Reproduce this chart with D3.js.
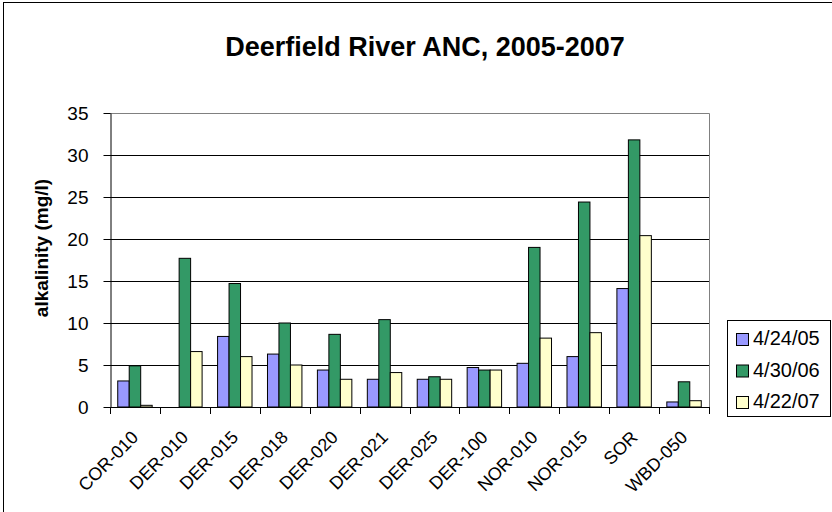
<!DOCTYPE html>
<html>
<head>
<meta charset="utf-8">
<script src="https://cdn.jsdelivr.net/npm/d3@7"></script>
<style>
  body { margin: 0; background: #fff; }
  svg { display: block; font-family: Arial, "Liberation Sans", sans-serif; }
</style>
</head>
<body>
<div id="chart"></div>
<script>
// Deerfield River ANC, 2005-2007 - grouped bar chart

const sites = ["COR-010", "DER-010", "DER-015", "DER-018", "DER-020", "DER-021",
               "DER-025", "DER-100", "NOR-010", "NOR-015", "SOR", "WBD-050"];
const dates = ["4/24/05", "4/30/06", "4/22/07"];
const apr2005 = [3.1, null, 8.4, 6.3, 4.4, 3.3, 3.3, 4.7, 5.2, 6.0, 14.1, 0.6];
const apr2006 = [4.9, 17.7, 14.7, 10.0, 8.65, 10.4, 3.6, 4.4, 19.0, 24.4, 31.8, 3.0];
const apr2007 = [0.2, 6.6, 6.0, 5.0, 3.3, 4.1, 3.3, 4.4, 8.2, 8.85, 20.4, 0.75];
const yTicks = [0, 5, 10, 15, 20, 25, 30, 35];
const colors = ["#9999FF", "#339966", "#FFFFCC"];

const width = 832, height = 512;
const plot = { left: 110, right: 709, top: 113, bottom: 407 };

const series = [apr2005, apr2006, apr2007];

const svg = d3.select("#chart").append("svg")
  .attr("width", width)
  .attr("height", height);

// outer chart border
svg.append("rect")
  .attr("x", 3.5).attr("y", 2.5)
  .attr("width", 860).attr("height", 540)
  .attr("fill", "none").attr("stroke", "#000");

const x = d3.scaleBand()
  .domain(sites)
  .range([plot.left, plot.right])
  .paddingInner(0.31)
  .paddingOuter(0.155);

const x1 = d3.scaleBand()
  .domain(d3.range(dates.length))
  .range([0, x.bandwidth()]);

const y = d3.scaleLinear()
  .domain([0, 35])
  .range([plot.bottom, plot.top]);

// gridlines
svg.append("g")
  .selectAll("line")
  .data(yTicks.filter(t => t > 0 && t < 35))
  .join("line")
    .attr("x1", plot.left).attr("x2", plot.right)
    .attr("y1", d => Math.round(y(d)) + 0.5)
    .attr("y2", d => Math.round(y(d)) + 0.5)
    .attr("stroke", "#000");

// plot area frame (top / right in grey)
svg.append("path")
  .attr("d", `M${plot.left},${plot.top + 0.5}H${plot.right + 0.5}V${plot.bottom}`)
  .attr("fill", "none")
  .attr("stroke", "#808080");

// bars
const groups = svg.append("g")
  .selectAll("g")
  .data(sites)
  .join("g")
    .attr("transform", d => `translate(${x(d)},0)`);

groups.selectAll("rect")
  .data((d, i) => series.map((s, k) => ({ k, v: s[i] })).filter(e => e.v != null))
  .join("rect")
    .attr("x", d => x1(d.k))
    .attr("y", d => y(d.v))
    .attr("width", x1.bandwidth())
    .attr("height", d => y(0) - y(d.v))
    .attr("fill", d => colors[d.k])
    .attr("stroke", "#000")
    .attr("stroke-width", 1);

// y axis
const yAxis = svg.append("g")
  .attr("transform", `translate(${plot.left + 0.5},0)`)
  .call(d3.axisLeft(y).tickValues(yTicks).tickSizeOuter(0).tickSizeInner(7).tickPadding(15));
yAxis.select(".domain").attr("stroke", "#000");
yAxis.selectAll("text")
  .style("font-size", "19px")
  .attr("fill", "#000");

// x axis: ticks on category boundaries
const xAxisG = svg.append("g");
xAxisG.append("line")
  .attr("x1", plot.left).attr("x2", plot.right + 1)
  .attr("y1", plot.bottom + 0.5).attr("y2", plot.bottom + 0.5)
  .attr("stroke", "#000");
const step = x.step();
xAxisG.selectAll("line.tick")
  .data(d3.range(sites.length + 1))
  .join("line")
    .attr("class", "tick")
    .attr("x1", i => Math.round(plot.left + i * step) + 0.5)
    .attr("x2", i => Math.round(plot.left + i * step) + 0.5)
    .attr("y1", plot.bottom)
    .attr("y2", plot.bottom + 7)
    .attr("stroke", "#000");

xAxisG.selectAll("text")
  .data(sites)
  .join("text")
    .attr("transform", d => `translate(${x(d) + x.bandwidth() / 2},434) rotate(-45)`)
    .attr("text-anchor", "end")
    .attr("dy", "0.35em")
    .style("font-size", "18px")
    .text(d => d);

// y axis title
svg.append("text")
  .attr("transform", `translate(48,248) rotate(-90)`)
  .attr("text-anchor", "middle")
  .style("font-size", "19px")
  .style("font-weight", "bold")
  .text("alkalinity (mg/l)");

// chart title
svg.append("text")
  .attr("x", 425)
  .attr("y", 56)
  .attr("text-anchor", "middle")
  .style("font-size", "27px")
  .style("font-weight", "bold")
  .text("Deerfield River ANC, 2005-2007");

// legend
const legend = svg.append("g");
legend.append("rect")
  .attr("x", 727.5).attr("y", 320.5)
  .attr("width", 103).attr("height", 96)
  .attr("fill", "#fff").attr("stroke", "#000");

const items = legend.selectAll("g.item")
  .data(dates)
  .join("g")
    .attr("class", "item")
    .attr("transform", (d, i) => `translate(736,${333 + i * 31.5})`);
items.append("rect")
  .attr("x", 0.5).attr("y", 0.5)
  .attr("width", 12).attr("height", 12)
  .attr("fill", (d, i) => colors[i])
  .attr("stroke", "#000");
items.append("text")
  .attr("x", 17)
  .attr("y", 12)
  .style("font-size", "20px")
  .text(d => d);
</script>
</body>
</html>
